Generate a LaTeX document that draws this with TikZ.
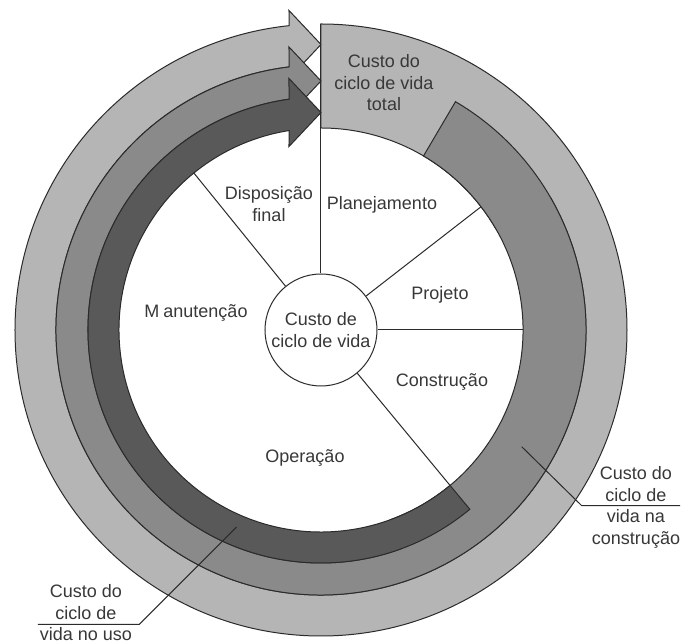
\documentclass[tikz,border=0pt]{standalone}
\usepackage{fontspec}
\setmainfont{Liberation Sans}
\begin{document}
\begin{tikzpicture}[x=1pt,y=1pt,
  band/.style={draw=outl, line width=1pt, line join=miter},
  spoke/.style={draw=outl, line width=1pt},
  lbl/.style={text=txt, align=center, inner sep=0pt,
    font=\fontsize{18pt}{21.5pt}\selectfont}]
\definecolor{outl}{gray}{0.17}
\definecolor{txt}{gray}{0.22}
\definecolor{lightg}{gray}{0.71}
\definecolor{midg}{gray}{0.54}
\definecolor{darkg}{gray}{0.35}
\useasboundingbox (-321,-314) rectangle (362,330);
\fill[white] (-321,-314) rectangle (362,330);

% outer ring: total life-cycle cost
\draw[band, fill=lightg] (90:202) -- (90:306)
  arc[start angle=90, end angle=-264, radius=306pt]
  -- (-32,319.5) -- (0,285.5) -- (-32,251.5) -- (-263.065:265)
  arc[start angle=-263.065, end angle=30, radius=265pt]
  -- (30:202) arc[start angle=30, end angle=90, radius=202pt] -- cycle;

% middle ring: construction cost
\draw[band, fill=midg] (59.5:202) -- (59.5:265)
  arc[start angle=59.5, end angle=-263.065, radius=265pt]
  -- (-32,283) -- (0,249) -- (-32,215) -- (-262.106:233)
  arc[start angle=-262.106, end angle=-70, radius=233pt]
  -- (-70:202) arc[start angle=-70, end angle=59.5, radius=202pt] -- cycle;

% inner ring: cost in use
\draw[band, fill=darkg] (-50.3:202) -- (-50.3:233)
  arc[start angle=-50.3, end angle=-262.106, radius=233pt]
  -- (-32,251.5) -- (0,217.5) -- (-32,183.5) -- (-260.885:202)
  arc[start angle=-260.885, end angle=-50.3, radius=202pt] -- cycle;

% hub
\node[circle, draw=outl, line width=1pt, fill=white, minimum size=112pt,
  inner sep=0pt, lbl] (core) at (0,0) {Custo de\\ciclo de vida};

% spoke end points
\coordinate (s90) at (90:306);
\coordinate (s37) at (37.6:202);
\coordinate (s0) at (0:202);
\coordinate (s50) at (-50.3:202);
\coordinate (s129) at (129:202);

\draw[spoke] (core.90) -- (s90);
\draw[spoke] (core.37.6) -- (s37);
\draw[spoke] (core.0) -- (s0);
\draw[spoke] (core.-50.3) -- (s50);
\draw[spoke] (core.129) -- (s129);

% phase labels
\node[lbl] (tot) at (63,247) {Custo do\\ciclo de vida\\total};
\node[lbl] (disp) at (-52,126) {Disposição\\final};
\node[lbl] (plan) at (61,125) {Planejamento};
\node[lbl] (proj) at (119,35) {Projeto};
\node[lbl] (constr) at (121,-52) {Construção};
\node[lbl] (oper) at (-16,-128) {Operação};
\node[lbl] (manut) at (-125,17) {M\kern4pt anutenção};

% leader: construction
\node[lbl] (lconstr) at (315,-177.5) {Custo do\\ciclo de\\vida na\\construção};
\coordinate (c1) at (200.7,-116.7);
\coordinate (c2) at (260.7,-175.7);
\coordinate (c3) at (359,-175.7);
\draw[spoke] (c1) -- (c2) -- (c3);

% leader: use
\node[lbl] (luso) at (-235,-283) {Custo do\\ciclo de\\vida no uso};
\coordinate (u1) at (-84.4,-197);
\coordinate (u2) at (-181.7,-294.3);
\coordinate (u3) at (-283,-294.3);
\draw[spoke] (u1) -- (u2) -- (u3);
\end{tikzpicture}
\end{document}
